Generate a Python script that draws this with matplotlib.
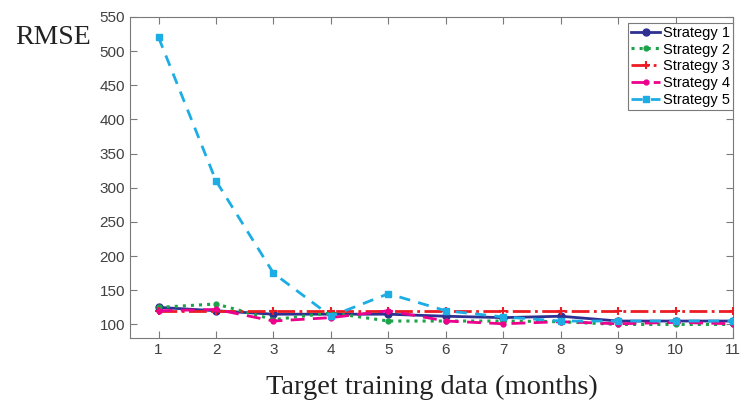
import matplotlib
matplotlib.use("Agg")
import matplotlib.pyplot as plt

# Data
months = [1, 2, 3, 4, 5, 6, 7, 8, 9, 10, 11]
strategy1 = [125, 120, 115, 115, 115, 112, 110, 112, 105, 105, 105]
strategy2 = [125, 130, 107, 117, 105, 105, 105, 104, 100, 100, 100]
strategy3 = [120, 120, 120, 120, 120, 120, 120, 120, 120, 120, 120]
strategy4 = [120, 122, 105, 110, 120, 105, 101, 104, 101, 103, 101]
strategy5 = [520, 310, 175, 112, 145, 120, 111, 105, 105, 105, 105]
yticks = [100, 150, 200, 250, 300, 350, 400, 450, 500, 550]

fig = plt.figure(figsize=(7.42, 4.03), dpi=100)
ax = fig.add_axes([0.175, 0.161, 0.813, 0.797])

ax.plot(months, strategy1, color="#2E3192", linestyle="-", linewidth=2,
        marker="o", markersize=5, label="Strategy 1", zorder=3)
ax.plot(months, strategy2, color="#1BA34A", linestyle=":", linewidth=2.2,
        marker="o", markersize=3.5, label="Strategy 2", zorder=3)
ax.plot(months, strategy3, color="#ED1C24", linestyle="-.", linewidth=2,
        marker="+", markersize=6, markeredgewidth=1.5, label="Strategy 3", zorder=3)
ax.plot(months, strategy4, color="#EC008C", linestyle="--", linewidth=2,
        dashes=(5, 3), marker=".", markersize=7, label="Strategy 4", zorder=3)
ax.plot(months, strategy5, color="#1CADE4", linestyle="--", linewidth=2,
        dashes=(4, 3), marker="s", markersize=5, label="Strategy 5", zorder=4)

ax.set_xlim(0.5, 11)
ax.set_ylim(80, 550)
ax.set_xticks(months)
ax.set_yticks(yticks)

for spine in ax.spines.values():
    spine.set_color("#7a7a7a")
    spine.set_linewidth(0.8)
ax.tick_params(direction="in", top=True, right=True, length=5,
               colors="#7a7a7a", labelcolor="#404040", labelsize=11,
               width=0.8)
for lbl in ax.get_xticklabels() + ax.get_yticklabels():
    lbl.set_fontfamily("Liberation Sans")

ax.set_xlabel("Target training data (months)", fontfamily="Liberation Serif",
              fontsize=20.5, color="#222222", labelpad=13)
fig.text(0.02, 0.908, "RMSE", fontfamily="Liberation Serif", fontsize=20,
         color="#222222", va="center", ha="left")

leg = ax.legend(loc="upper right", bbox_to_anchor=(1.0, 0.982),
                prop={"family": "Liberation Sans", "size": 10.5},
                handlelength=2.0, handletextpad=0.2, borderpad=0.2,
                labelspacing=0.2, borderaxespad=0.0, fancybox=False,
                framealpha=1)
leg.get_frame().set_edgecolor("#7a7a7a")
leg.get_frame().set_linewidth(0.8)

fig.savefig("out.png", dpi=100, facecolor="white")
plt.close(fig)
